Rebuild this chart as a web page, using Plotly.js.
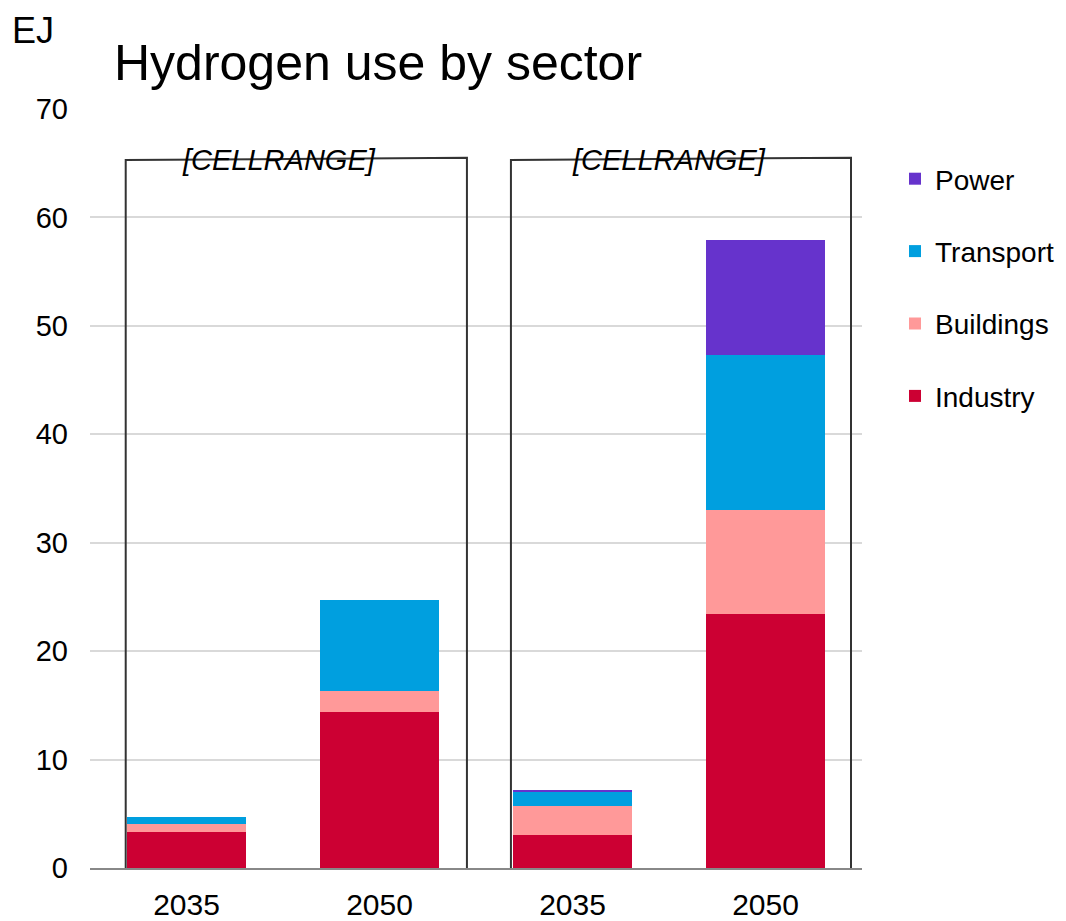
<!DOCTYPE html>
<html>
<head>
<meta charset="utf-8">
<script src="https://cdn.plot.ly/plotly-3.0.1.min.js"></script>
<style>html,body{margin:0;padding:0;background:#fff;}#chart{width:1066px;height:921px;}</style>
</head>
<body>
<div id="chart"></div>
<script>
// ---- data ----
const xPositions = [0, 1, 2, 3];
const tickLabels = ["2035", "2050", "2035", "2050"];
const groupLabels = ["[CELLRANGE]", "[CELLRANGE]"];
const industry  = [3.34, 14.40, 3.07, 23.40];
const buildings = [0.74, 1.90, 2.66, 9.59];
const transport = [0.65, 8.39, 1.27, 14.28];
const power     = [0.00, 0.00, 0.21, 10.63];
const seriesNames  = ["Industry", "Buildings", "Transport", "Power"];
const seriesColors = ["#CC0033", "#FF9999", "#009FDF", "#6633CC"];
const seriesValues = [industry, buildings, transport, power];

const FONT = "Liberation Sans, Arial, sans-serif";

const traces = seriesNames.map((name, i) => ({
  type: "bar",
  name: name,
  x: xPositions,
  y: seriesValues[i],
  width: 0.62,
  legendgroup: name,
  legendrank: seriesNames.length - i,
  marker: { color: seriesColors[i], line: { width: 0 } },
  hoverinfo: "name+y"
}));

// group brackets (in data coordinates)
const groupBoxes = [
  { x0: -0.315, x1: 1.453, yl: 65.3, yr: 65.5, label: groupLabels[0], lx: 0.48 },
  { x0: 1.681, x1: 3.443, yl: 65.3, yr: 65.5, label: groupLabels[1], lx: 2.50 }
];
const shapes = groupBoxes.map(b => ({
  type: "path",
  xref: "x", yref: "y",
  path: `M ${b.x0},0 L ${b.x0},${b.yl} L ${b.x1},${b.yr} L ${b.x1},0`,
  line: { color: "#333333", width: 2 },
  layer: "above"
}));

const annotations = groupBoxes.map(b => ({
  xref: "x", yref: "y",
  x: b.lx, y: 65.3,
  text: "<i>" + b.label + "</i>",
  showarrow: false,
  font: { family: FONT, size: 29, color: "#000" },
  xanchor: "center", yanchor: "middle"
}));
annotations.push({
  xref: "paper", yref: "paper",
  x: -0.104, y: 1.104,
  text: "EJ", showarrow: false,
  font: { family: FONT, size: 36, color: "#000" },
  xanchor: "left", yanchor: "middle"
});

const layout = {
  width: 1066, height: 921,
  margin: { l: 90, r: 204, t: 109, b: 53, pad: 0 },
  paper_bgcolor: "#fff", plot_bgcolor: "#fff",
  barmode: "stack",
  title: {
    text: "Hydrogen use by sector",
    font: { family: FONT, size: 50, color: "#000" },
    xref: "container", yref: "container",
    x: 114 / 1066, xanchor: "left",
    y: 1 - 62 / 921, yanchor: "middle"
  },
  xaxis: {
    range: [-0.5, 3.5],
    tickvals: xPositions,
    ticktext: tickLabels,
    showgrid: false,
    zeroline: false,
    showline: true, linecolor: "#888888", linewidth: 2,
    ticks: "",
    ticklabelstandoff: 9,
    tickfont: { family: FONT, size: 30, color: "#000" }
  },
  yaxis: {
    range: [0, 70],
    dtick: 10,
    showgrid: true, gridcolor: "#D9D9D9", gridwidth: 2,
    zeroline: false,
    showline: false,
    ticks: "",
    ticklabelstandoff: 21,
    tickfont: { family: FONT, size: 29, color: "#000" }
  },
  showlegend: true,
  legend: {
    xref: "container", yref: "container",
    x: 895 / 1066, xanchor: "left",
    y: 1 - 154 / 921, yanchor: "top",
    traceorder: "grouped",
    tracegroupgap: 33,
    font: { family: FONT, size: 28, color: "#000" },
    bgcolor: "rgba(0,0,0,0)",
    borderwidth: 0
  },
  shapes: shapes,
  annotations: annotations
};

Plotly.newPlot("chart", traces, layout, { displayModeBar: false, staticPlot: true });
</script>
</body>
</html>
